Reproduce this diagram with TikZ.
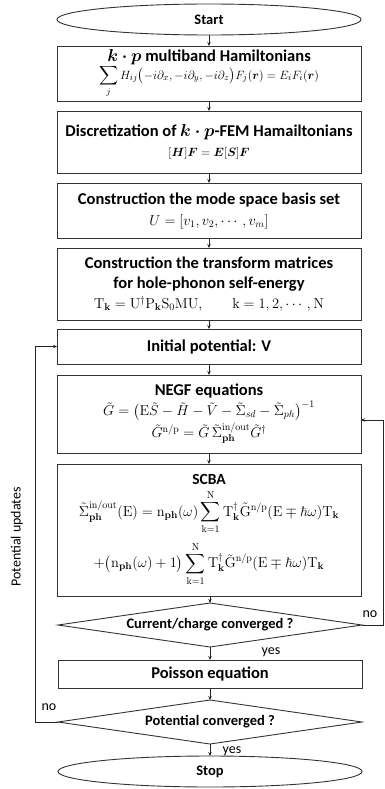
\documentclass[tikz,border=0pt]{standalone}
\usepackage{amsmath,amssymb,bm}
\usepackage[no-math]{fontspec}
\setmainfont{Carlito}
\usetikzlibrary{shapes.geometric,arrows.meta}
\newcommand{\eqsz}{\fontsize{13.8}{16}\selectfont}
\begin{document}
\begin{tikzpicture}[x=1pt,y=-1pt,
  every node/.style={outer sep=0pt},
  box/.style={draw=black!80, line width=0.9pt, minimum width=304pt, inner sep=0pt, align=center,
    font=\fontsize{16.5}{20}\selectfont\bfseries},
  term/.style={draw=black!80, line width=0.9pt, ellipse, minimum width=304pt, minimum height=31pt, inner sep=0pt,
    font=\fontsize{14.5}{17}\selectfont\bfseries},
  decide/.style={draw=black!80, line width=0.9pt, diamond, aspect=6.6, minimum width=304pt, minimum height=44pt, inner sep=0pt,
    font=\fontsize{14.5}{17}\selectfont\bfseries},
  flow/.style={draw=black!85, line width=0.7pt, -{Stealth[length=4pt,width=3.5pt]}},
  lbl/.style={font=\fontsize{14}{16}\selectfont, inner sep=0pt}
]
\useasboundingbox (0,0) rectangle (384,789);

\node[term] (start) at (209,19.5) {Start};

\node[box, minimum height=55pt] (b1) at (209,73.5) {%
  $\bm{k\cdot p}$ multiband Hamiltonians\\[-2pt]
  {\fontsize{13.2}{15}\selectfont\mdseries $\displaystyle\sum_j H_{ij}\bigl(-i\partial_x,-i\partial_y,-i\partial_z\bigr)F_j(\bm r)=E_iF_i(\bm r)$}};

\node[box, minimum height=62pt] (b2) at (209,142) {%
  Discretization of $\bm{k\cdot p}$-FEM Hamailtonians\\[0pt]
  {\fontsize{12}{14}\selectfont\mdseries $[\bm H]\bm F=\bm E[\bm S]\bm F$}};

\node[box, minimum height=55pt] (b3) at (209,210.5) {%
  Construction the mode space basis set\\[1pt]
  {\eqsz\mdseries $U=[v_1,v_2,\cdots,v_m]$}};

\node[box, minimum height=72pt] (b4) at (209,284) {%
  Construction the transform matrices\\[0pt]
  for hole-phonon self-energy\\[0pt]
  {\eqsz\mdseries $\mathrm T_{\mathbf k}=\mathrm U^{\dagger}\mathrm P_{\mathbf k}\mathrm S_0\mathrm{MU},\qquad \mathrm k=1,2,\cdots,\mathrm N$}};

\node[box, minimum height=35pt] (b5) at (209,346.5) {Initial potential: V};

\node[box, minimum height=78pt] (b6) at (209,414) {%
  NEGF equations\\[0pt]
  {\eqsz\mdseries $\tilde G=\bigl(\mathrm E\tilde S-\tilde H-\tilde V-\tilde\Sigma_{sd}-\tilde\Sigma_{ph}\bigr)^{-1}$}\\[2pt]
  {\eqsz\mdseries $\tilde G^{\mathrm{n/p}}=\tilde G\,\tilde\Sigma^{\mathrm{in/out}}_{\mathbf{ph}}\tilde G^{\dagger}$}};

\node[box, minimum height=132pt, font=\fontsize{15.5}{18}\selectfont\bfseries] (b7) at (209,530) {%
  SCBA\\[5pt]
  {\eqsz\mdseries $\displaystyle\tilde\Sigma^{\mathrm{in/out}}_{\mathbf{ph}}(\mathrm E)=\mathrm n_{\mathbf{ph}}(\omega)\sum_{\mathrm{k=1}}^{\mathrm N}\mathrm T_{\mathbf k}^{\dagger}\tilde{\mathrm G}^{\mathrm{n/p}}(\mathrm E\mp\hbar\omega)\mathrm T_{\mathbf k}$}\\[7pt]
  {\eqsz\mdseries $\displaystyle+\bigl(\mathrm n_{\mathbf{ph}}(\omega)+1\bigr)\sum_{\mathrm{k=1}}^{\mathrm N}\mathrm T_{\mathbf k}^{\dagger}\tilde{\mathrm G}^{\mathrm{n/p}}(\mathrm E\mp\hbar\omega)\mathrm T_{\mathbf k}$}};

\node[decide] (d1) at (210,625) {Current/charge converged ?};

\node[box, minimum height=28pt] (b8) at (210,674) {Poisson equation};

\node[decide] (d2) at (210,722) {Potential converged ?};

\node[term] (stop) at (210,771.5) {Stop};

\coordinate (lx) at (35,0);
\coordinate (rx) at (383,0);
\coordinate (b6in) at ([yshift=-6pt]b6.east);

\draw[flow] (start) -- (b1);
\draw[flow] (b1) -- (b2);
\draw[flow] (b2) -- (b3);
\draw[flow] (b3) -- (b4);
\draw[flow] (b4) -- (b5);
\draw[flow] (b5) -- (b6);
\draw[flow] (b6) -- (b7);
\draw[flow] (b7.south -| d1.north) -- (d1.north);
\draw[flow] (d1) -- (b8);
\draw[flow] (b8) -- (d2);
\draw[flow] (d2) -- (stop);
\draw[flow] (d1.east) -- (d1.east -| rx) -- (b6in -| rx) -- (b6in);
\draw[flow] (d2.west) -- (d2.west -| lx) -- (b5.west -| lx) -- (b5.west);

\node[lbl] (no1) at (370,614) {no};
\node[lbl] (yes1) at (271,652) {yes};
\node[lbl] (no2) at (49,707) {no};
\node[lbl] (yes2) at (232,751) {yes};
\node[lbl, rotate=90] (pu) at (17,537) {Potential updates};
\end{tikzpicture}
\end{document}
